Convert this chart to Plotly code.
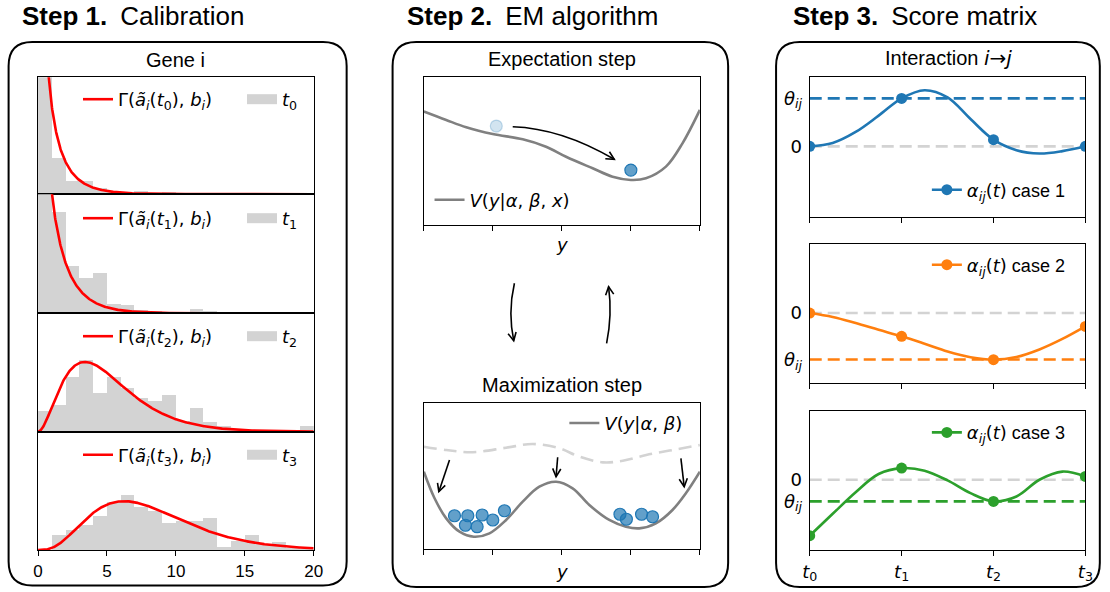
import math
import numpy as np
import plotly.graph_objects as go

W, H = 1110, 592

# ---------------- Step 1: calibration histograms (density, unit bins) ----------------
bin_centers = [i + 0.5 for i in range(20)]
hist_t0 = [0.78, 0.083, 0.029, 0.029, 0.013, 0.006, 0.002, 0.007, 0.002, 0.003,
           0, 0, 0, 0, 0, 0, 0, 0, 0, 0]
hist_t1 = [0.42, 0.230, 0.107, 0.079, 0.0915, 0.020, 0.018, 0.0076, 0.005, 0.003,
           0.003, 0.009, 0.004, 0, 0, 0, 0, 0, 0, 0]
hist_t2 = [0.047, 0.059, 0.125, 0.162, 0.087, 0.125, 0.098, 0.0755, 0.070, 0.082,
           0.023, 0.054, 0.022, 0.013, 0.006, 0.003, 0.002, 0, 0, 0.011]
hist_t3 = [0.0, 0.035, 0.047, 0.058, 0.079, 0.110, 0.127, 0.099, 0.090, 0.063,
           0.067, 0.067, 0.074, 0.008, 0.021, 0.035, 0.015, 0.019, 0.006, 0.004]
gamma_shape = [0.4, 0.6, 3.0, 4.2]
gamma_scale = [1.7, 1.7, 1.7, 1.95]
hist_xticks = [0, 5, 10, 15, 20]
time_index = ["0", "1", "2", "3"]

# ---------------- Step 2: EM algorithm potentials ----------------
e_y = [0, 0.324, 0.614, 0.999, 1.433, 1.771, 2.061, 2.446, 2.735, 3.0, 3.218, 3.508, 3.748, 4.0]
e_V = [0.768, 0.711, 0.662, 0.616, 0.580, 0.530, 0.462, 0.384, 0.327, 0.305, 0.316, 0.395, 0.553, 0.779]
e_ball_old_y = [1.05]
e_ball_old_V = [0.67]
e_ball_new_y = [3.0]
e_ball_new_V = [0.372]

m_y = [0, 0.155, 0.324, 0.517, 0.724, 0.951, 1.192, 1.433, 1.674, 1.916, 2.156, 2.398,
       2.687, 2.929, 3.122, 3.363, 3.603, 3.797, 4.0]
m_V = [0.529, 0.348, 0.211, 0.120, 0.086, 0.109, 0.200, 0.325, 0.427, 0.461, 0.416, 0.302,
       0.200, 0.154, 0.143, 0.177, 0.268, 0.382, 0.529]
m_old_y = [0, 0.324, 0.709, 1.192, 1.577, 1.964, 2.253, 2.594, 2.883, 3.223, 3.603, 4.0]
m_old_V = [0.700, 0.677, 0.662, 0.693, 0.718, 0.689, 0.632, 0.593, 0.604, 0.643, 0.677, 0.711]
m_balls_y = [0.444, 0.637, 0.845, 1.168, 0.603, 0.772, 0.999, 2.842, 3.155, 3.314, 2.935]
m_balls_V = [0.229, 0.229, 0.234, 0.263, 0.164, 0.154, 0.200, 0.239, 0.239, 0.222, 0.205]

# ---------------- Step 3: score matrix ----------------
t_marks = [0, 1, 2, 3]
t_fine = [0, 0.25, 0.5, 0.75, 1, 1.25, 1.5, 1.75, 2, 2.25, 2.5, 2.75, 3]
alpha_marks_1 = [0.0, 1.0, 0.139, 0.0]
alpha_marks_2 = [0.0, -0.486, -0.972, -0.278]
alpha_marks_3 = [-1.167, 0.243, -0.451, 0.069]
alpha_fine_1 = [0.0, 0.07, 0.30, 0.64, 1.0, 1.17, 1.02, 0.57, 0.139, -0.08, -0.15, -0.10, 0.0]
alpha_fine_2 = [0.0, -0.083, -0.21, -0.35, -0.486, -0.64, -0.80, -0.92, -0.972, -0.917, -0.76, -0.54, -0.278]
alpha_fine_3 = [-1.167, -0.71, -0.26, 0.12, 0.243, 0.19, -0.014, -0.28, -0.451, -0.35, 0.0, 0.17, 0.069]
theta = [1.0, -0.97, -0.45]
case_names = ["case 1", "case 2", "case 3"]
case_colors = ["#1f77b4", "#ff7f0e", "#2ca02c"]

# ---------------- helpers (pixel -> paper, with horizontal calibration) ----------------
SX, OX = 0.986, 7.9

def X(x):
    return (x - OX) / SX

def xdom(a, b):
    return [X(a) / W, X(b) / W]

def ydom(top, bot):
    return [1 - bot / H, 1 - top / H]

def P(x, y, raw=False):
    xx = x if raw else X(x)
    return f"{xx / W:.5f},{1 - y / H:.5f}"

FONT = "Liberation Sans"
MATH = "DejaVu Sans"

def m(s):
    return f'<span style="font-family:{MATH}">{s}</span>'

fig = go.Figure()
layout = dict(width=W, height=H, margin=dict(l=0, r=0, t=0, b=0, pad=0),
              paper_bgcolor="white", plot_bgcolor="white", autosize=False,
              font=dict(family=FONT, size=17, color="black"),
              barmode="overlay", bargap=0, shapes=[], annotations=[])

base_axis = dict(showline=True, mirror=True, linecolor="black", linewidth=1.2,
                 showgrid=False, zeroline=False, ticks="", showticklabels=False,
                 fixedrange=True)

legend_ids = ["legend"] + [f"legend{i}" for i in range(2, 10)]

def add_legend(idx, x_px, y_px, fontfam, size, entrywidth=None):
    d = dict(x=X(x_px) / W, y=1 - y_px / H, xanchor="left", yanchor="middle",
             orientation="h", bgcolor="rgba(0,0,0,0)", borderwidth=0,
             font=dict(family=fontfam, size=size, color="black"))
    if entrywidth:
        d["entrywidth"] = entrywidth
        d["entrywidthmode"] = "pixels"
    layout[legend_ids[idx]] = d

# ---------- Step 1 ----------
hists = [hist_t0, hist_t1, hist_t2, hist_t3]
p1_rows = [(77.3, 194.2), (194.2, 313.4), (313.4, 431.7), (431.7, 550.0)]
legend_y = [99.5, 218.5, 336.5, 455.0]
xs = np.linspace(0.005, 20, 800)
for k in range(4):
    ax = k + 1
    xa = dict(base_axis, domain=xdom(38, 314), range=[0, 20], anchor=f"y{ax}")
    if k == 3:
        xa.update(ticks="outside", ticklen=5, tickwidth=1.2, tickcolor="black",
                  tickvals=hist_xticks, showticklabels=True, tickfont=dict(size=17))
    ya = dict(base_axis, domain=ydom(*p1_rows[k]), range=[0, 0.27], anchor=f"x{ax}")
    layout["xaxis" if ax == 1 else f"xaxis{ax}"] = xa
    layout["yaxis" if ax == 1 else f"yaxis{ax}"] = ya
    xr, yr = ("x" if ax == 1 else f"x{ax}"), ("y" if ax == 1 else f"y{ax}")
    fig.add_trace(go.Bar(x=bin_centers, y=hists[k], width=1.0, xaxis=xr, yaxis=yr,
                         marker=dict(color="lightgray", line=dict(width=0)),
                         showlegend=False, hoverinfo="skip"))
    a, s = gamma_shape[k], gamma_scale[k]
    pdf = xs ** (a - 1) * np.exp(-xs / s) / (math.gamma(a) * s ** a)
    fig.add_trace(go.Scatter(x=xs, y=pdf, mode="lines", xaxis=xr, yaxis=yr,
                             line=dict(color="red", width=2.6),
                             name=f"Γ(<i>ã</i><sub><i>i</i></sub>(<i>t</i><sub>{time_index[k]}</sub>), <i>b</i><sub><i>i</i></sub>)",
                             legend=legend_ids[k]))
    fig.add_trace(go.Scatter(x=[None], y=[None], mode="lines", xaxis=xr, yaxis=yr,
                             line=dict(color="lightgray", width=11),
                             name=f"<i>t</i><sub>{time_index[k]}</sub>",
                             legend=legend_ids[k]))
    add_legend(k, 78, legend_y[k], MATH, 18, entrywidth=119)

# ---------- Step 2 ----------
for ax, (top, bot) in ((5, (77.3, 225.0)), (6, (402.7, 549.3))):
    layout[f"xaxis{ax}"] = dict(base_axis, domain=xdom(424.3, 700.7), range=[0, 4],
                               anchor=f"y{ax}", ticks="outside", ticklen=5, tickwidth=1.2,
                               tickcolor="black", tickvals=[0, 1, 2, 3, 4])
    layout[f"yaxis{ax}"] = dict(base_axis, domain=ydom(top, bot), range=[0, 1], anchor=f"x{ax}")

fig.add_trace(go.Scatter(x=e_y, y=e_V, mode="lines", xaxis="x5", yaxis="y5",
                         line=dict(color="gray", width=2.6, shape="spline", smoothing=1),
                         name="<i>V</i>(<i>y</i>|<i>α</i>, <i>β</i>, <i>x</i>)", legend="legend5"))
fig.add_trace(go.Scatter(x=e_ball_old_y, y=e_ball_old_V, mode="markers", xaxis="x5", yaxis="y5",
                         marker=dict(size=12, color="rgba(31,119,180,0.2)",
                                     line=dict(color="rgba(31,119,180,0.25)", width=1.2)),
                         showlegend=False))
fig.add_trace(go.Scatter(x=e_ball_new_y, y=e_ball_new_V, mode="markers", xaxis="x5", yaxis="y5",
                         marker=dict(size=12, color="rgba(31,119,180,0.7)",
                                     line=dict(color="#1f77b4", width=1.2)),
                         showlegend=False))
add_legend(4, 430, 200, MATH, 18)

fig.add_trace(go.Scatter(x=m_old_y, y=m_old_V, mode="lines", xaxis="x6", yaxis="y6",
                         line=dict(color="lightgray", width=2.6, dash="13px,7px",
                                   shape="spline", smoothing=1),
                         showlegend=False))
fig.add_trace(go.Scatter(x=m_y, y=m_V, mode="lines", xaxis="x6", yaxis="y6",
                         line=dict(color="gray", width=2.6, shape="spline", smoothing=1),
                         name="<i>V</i>(<i>y</i>|<i>α</i>, <i>β</i>)", legend="legend6"))
fig.add_trace(go.Scatter(x=m_balls_y, y=m_balls_V, mode="markers", xaxis="x6", yaxis="y6",
                         marker=dict(size=12, color="rgba(31,119,180,0.7)",
                                     line=dict(color="#1f77b4", width=1.2)),
                         showlegend=False))
add_legend(5, 565, 423.3, MATH, 18)

# ---------- Step 3 ----------
marks = [alpha_marks_1, alpha_marks_2, alpha_marks_3]
fines = [alpha_fine_1, alpha_fine_2, alpha_fine_3]
p3_rows = [(77.3, 216.6), (244.0, 383.3), (410.7, 550.0)]
p3_legend_y = [190, 265, 432.7]
for c in range(3):
    ax = 7 + c
    xa = dict(base_axis, domain=xdom(810.7, 1086.7), range=[0, 3], anchor=f"y{ax}",
              ticks="outside", ticklen=5, tickwidth=1.2, tickcolor="black", tickvals=t_marks)
    if c == 2:
        xa.update(showticklabels=True,
                  ticktext=[f"<i>t</i><sub>{i}</sub>" for i in time_index],
                  tickfont=dict(family=MATH, size=18))
    layout[f"xaxis{ax}"] = xa
    layout[f"yaxis{ax}"] = dict(base_axis, domain=ydom(*p3_rows[c]), range=[-1.465, 1.44],
                               anchor=f"x{ax}", showticklabels=True,
                               tickvals=[theta[c], 0],
                               ticktext=["<i>θ</i><sub><i>ij</i></sub>", "0"],
                               ticklabelstandoff=3, tickfont=dict(family=MATH, size=18))
    for yv, col in ((0, "lightgray"), (theta[c], case_colors[c])):
        layout["shapes"].append(dict(type="line", xref=f"x{ax} domain", yref=f"y{ax}",
                                     x0=0, x1=1, y0=yv, y1=yv, layer="below",
                                     line=dict(color=col, width=2.6, dash="12px,6px")))
    fig.add_trace(go.Scatter(x=t_fine, y=fines[c], mode="lines", xaxis=f"x{ax}", yaxis=f"y{ax}",
                             line=dict(color=case_colors[c], width=2.6, shape="spline", smoothing=1),
                             showlegend=False))
    fig.add_trace(go.Scatter(x=t_marks, y=marks[c], mode="markers", xaxis=f"x{ax}", yaxis=f"y{ax}",
                             marker=dict(size=11, color=case_colors[c]), showlegend=False))
    fig.add_trace(go.Scatter(x=[None], y=[None], mode="lines+markers", xaxis=f"x{ax}", yaxis=f"y{ax}",
                             line=dict(color=case_colors[c], width=2.6),
                             marker=dict(size=11, color=case_colors[c]),
                             name=m("<i>α</i><sub><i>ij</i></sub>(<i>t</i>)") + f" {case_names[c]}",
                             legend=legend_ids[ax - 1]))
    add_legend(ax - 1, 928, p3_legend_y[c], FONT, 18)

# ---------- decorations: boxes, arrows, titles ----------
def rounded_box(x0, y0, x1, y1, r):
    x0, x1 = X(x0), min(X(x1), W - 1.2)
    def Q(x, y):
        return P(x, y, raw=True)
    return (f"M{Q(x0 + r, y0)} L{Q(x1 - r, y0)} Q{Q(x1, y0)} {Q(x1, y0 + r)} "
            f"L{Q(x1, y1 - r)} Q{Q(x1, y1)} {Q(x1 - r, y1)} L{Q(x0 + r, y1)} "
            f"Q{Q(x0, y1)} {Q(x0, y1 - r)} L{Q(x0, y0 + r)} Q{Q(x0, y0)} {Q(x0 + r, y0)} Z")

for bx in ((8.5, 42, 347, 585.5), (393, 42, 729, 587), (777, 42, 1108, 587)):
    layout["shapes"].append(dict(type="path", xref="paper", yref="paper",
                                 path=rounded_box(*bx, 24),
                                 line=dict(color="black", width=2)))

def chevron(tip, frm, L=9, ang=27):
    dx, dy = tip[0] - frm[0], tip[1] - frm[1]
    n = math.hypot(dx, dy)
    dx, dy = dx / n, dy / n
    pts = []
    for sgn in (1, -1):
        a = math.radians(ang * sgn)
        rx = dx * math.cos(a) - dy * math.sin(a)
        ry = dx * math.sin(a) + dy * math.cos(a)
        pts.append((tip[0] - L * rx, tip[1] - L * ry))
    return f"M{P(*pts[0])} L{P(*tip)} L{P(*pts[1])}"

arrows = [
    ((513.3, 126.7), (562, 128.3), (615, 159.3)),
    ((515, 283.3), (508.3, 312), (514.3, 340.7)),
    ((607.3, 343.3), (613.1, 315), (609.3, 286.7)),
    ((450, 460), None, (439.3, 491.7)),
    ((558.3, 457.3), None, (556.7, 476.7)),
    ((681.7, 458.3), None, (685, 486.7)),
]
for start, ctrl, tip in arrows:
    if ctrl is None:
        body = f"M{P(*start)} L{P(*tip)}"
        frm = start
    else:
        body = f"M{P(*start)} Q{P(*ctrl)} {P(*tip)}"
        frm = ctrl
    for pth in (body, chevron(tip, frm)):
        layout["shapes"].append(dict(type="path", xref="paper", yref="paper", path=pth,
                                     line=dict(color="black", width=1.6)))

def text(x, y, s, size, anchor="center", fam=FONT):
    layout["annotations"].append(dict(x=X(x) / W, y=1 - y / H, xref="paper", yref="paper",
                                      text=s, showarrow=False, xanchor=anchor, yanchor="middle",
                                      font=dict(family=fam, size=size, color="black")))

text(20, 16, "<b>Step 1.</b>\u2002Calibration", 26, "left")
text(405, 16, "<b>Step 2.</b>\u2002EM algorithm", 26, "left")
text(792, 16, "<b>Step 3.</b>\u2002Score matrix", 26, "left")
text(176, 59.5, "Gene i", 20)
text(562.5, 59, "Expectation step", 20)
text(562.5, 385, "Maximization step", 20)
text(949.5, 58, "Interaction " + m("<i>i</i>→<i>j</i>"), 20)
text(562.5, 244, "<i>y</i>", 18, fam=MATH)
text(562.5, 571, "<i>y</i>", 18, fam=MATH)

fig.update_layout(**layout)
fig.write_html("out.html")
